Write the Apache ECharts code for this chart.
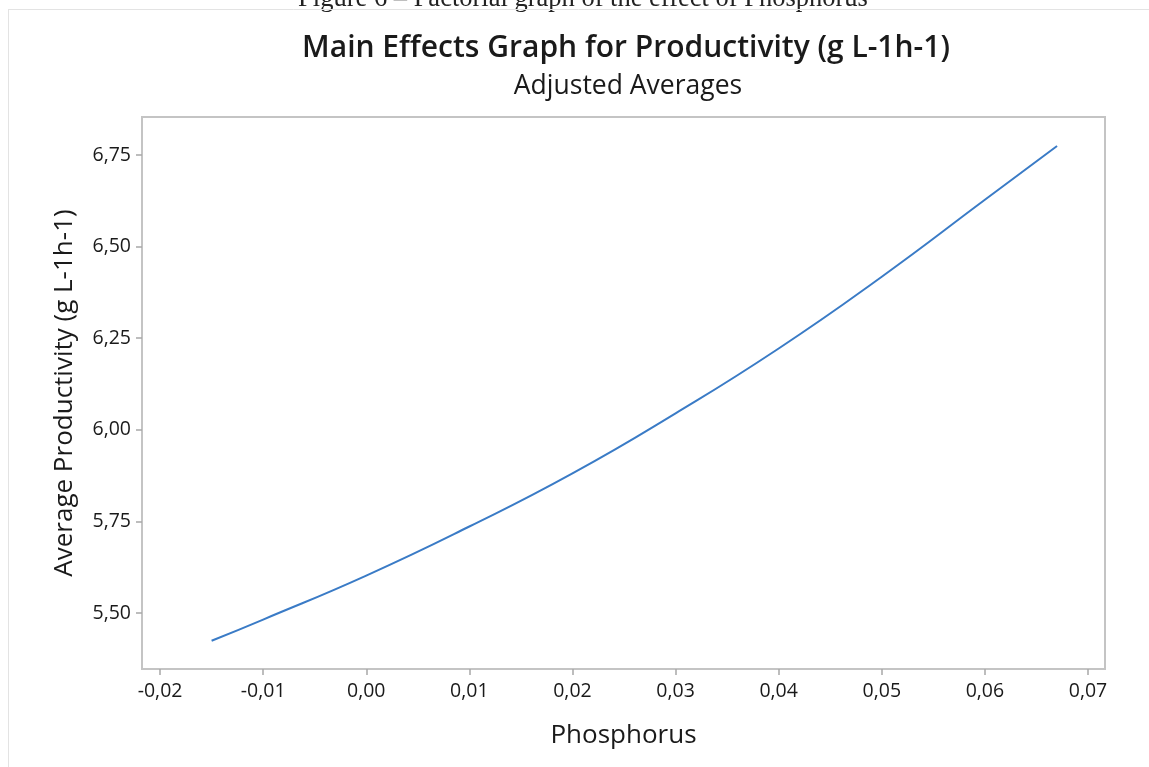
<!DOCTYPE html>
<html>
<head>
<meta charset="utf-8">
<script src="https://cdn.jsdelivr.net/npm/echarts@6/dist/echarts.min.js"></script>
<style>html,body{margin:0;padding:0;background:#fff;}#c{width:1149px;height:767px;}</style>
</head>
<body>
<div id="c"></div>
<script>
// Phosphorus level (x) and adjusted average productivity (y)
var phosphorus = [-0.015, -0.01, 0.00, 0.01, 0.02, 0.03, 0.04, 0.05, 0.06, 0.067];
var productivity = [5.424, 5.482, 5.602, 5.736, 5.881, 6.045, 6.222, 6.418, 6.628, 6.775];
var xTicks = [-0.02, -0.01, 0.00, 0.01, 0.02, 0.03, 0.04, 0.05, 0.06, 0.07];
var yTicks = [5.50, 5.75, 6.00, 6.25, 6.50, 6.75];

var FONT = '"Open Sans", "Noto Sans", sans-serif';
var data = phosphorus.map(function (x, i) { return [x, productivity[i]]; });
function fmt(v) { return v.toFixed(2).replace('.', ','); }

var chart = echarts.init(document.getElementById('c'), null, {renderer: 'canvas'});
chart.setOption({
  animation: false,
  backgroundColor: '#fff',
  title: [
    {text: 'Main Effects Graph for Productivity (g L-1h-1)', left: 621, textAlign: 'center', top: 28,
     textStyle: {fontFamily: FONT, fontSize: 30, fontWeight: 600, color: '#1a1a1a'}},
    {text: 'Adjusted Averages', left: 623, textAlign: 'center', top: 68,
     textStyle: {fontFamily: FONT, fontSize: 26.5, fontWeight: 'normal', color: '#1a1a1a'}}
  ],
  graphic: [
    {type: 'text', x: 583, y: -14,
     style: {text: 'Figure 6 \u2013 Factorial graph of the effect of Phosphorus', align: 'center', font: '26.5px "Liberation Serif", "DejaVu Serif", serif', fill: '#222'}},
    {type: 'line', shape: {x1: 8, y1: 9.5, x2: 1149, y2: 9.5}, style: {stroke: '#e3e3e3', lineWidth: 1}},
    {type: 'line', shape: {x1: 8.5, y1: 9, x2: 8.5, y2: 767}, style: {stroke: '#e3e3e3', lineWidth: 1}}
  ],
  grid: {left: 142, right: 44, top: 117, bottom: 98, show: true, borderColor: '#c4c4c4', borderWidth: 2, containLabel: false},
  xAxis: {
    type: 'value', min: -0.02175, max: 0.07165,
    name: 'Phosphorus', nameLocation: 'middle', nameGap: 54,
    nameTextStyle: {fontFamily: FONT, fontSize: 26, color: '#1a1a1a'},
    axisLine: {show: false, onZero: false},
    axisTick: {show: true, length: 6, inside: false, customValues: xTicks, lineStyle: {color: '#a8a8a8', width: 1.5}},
    axisLabel: {customValues: xTicks, margin: 12, fontFamily: FONT, fontSize: 19.5, color: '#1a1a1a', formatter: fmt},
    splitLine: {show: false}
  },
  yAxis: {
    type: 'value', min: 5.347, max: 6.854,
    name: 'Average Productivity (g L-1h-1)', nameLocation: 'middle', nameGap: 64, nameRotate: 90,
    nameTextStyle: {fontFamily: FONT, fontSize: 26, color: '#1a1a1a'},
    axisLine: {show: false, onZero: false},
    axisTick: {show: true, length: 6, inside: false, customValues: yTicks, lineStyle: {color: '#a8a8a8', width: 1.5}},
    axisLabel: {customValues: yTicks, margin: 11, fontFamily: FONT, fontSize: 19.5, color: '#1a1a1a', formatter: fmt},
    splitLine: {show: false}
  },
  series: [{
    type: 'line', data: data, smooth: true, showSymbol: false, symbol: 'none',
    lineStyle: {color: '#3a7bc6', width: 2}
  }]
});
</script>
</body>
</html>
